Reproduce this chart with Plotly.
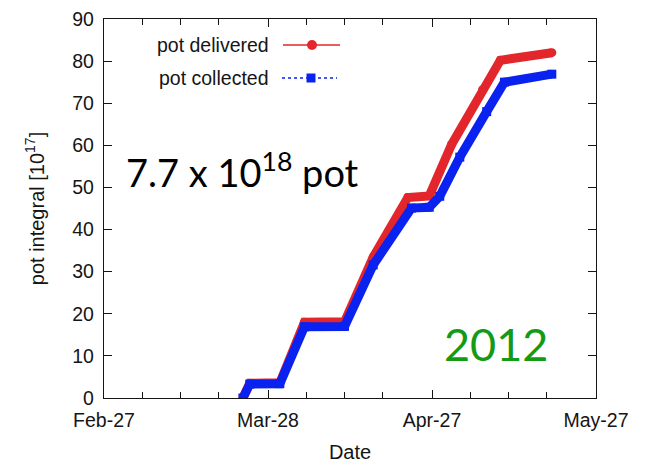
import plotly.graph_objects as go

# Integrated protons-on-target, 2012 run (units of 1e17)
delivered_dates = [
    "2012-03-23 10:00", "2012-03-24 16:00", "2012-03-30 04:00", "2012-04-03 16:00",
    "2012-04-11 00:00", "2012-04-16 06:00", "2012-04-22 14:00", "2012-04-26 12:00",
    "2012-04-30 14:00", "2012-05-06 06:00", "2012-05-09 12:00", "2012-05-18 22:00",
]
delivered_pot = [0.0, 3.5, 3.6, 18.0, 18.1, 33.5, 47.6, 48.0, 60.2, 73.2, 80.2, 82.0]

collected_dates = [
    "2012-03-23 10:00", "2012-03-24 16:00", "2012-03-30 04:00", "2012-04-03 16:00",
    "2012-04-11 00:00", "2012-04-16 06:00", "2012-04-23 06:00", "2012-04-26 12:00",
    "2012-04-28 10:00", "2012-05-02 02:00", "2012-05-07 00:00", "2012-05-10 06:00",
    "2012-05-18 22:00",
]
collected_pot = [0.0, 3.3, 3.4, 16.9, 17.0, 31.6, 45.1, 45.3, 47.9, 57.2, 68.0, 75.0, 76.9]

x_tick_vals = ["2012-02-27", "2012-03-28", "2012-04-27", "2012-05-27"]
x_tick_text = ["Feb-27", "Mar-28", "Apr-27", "May-27"]
x_minor_vals = ["2012-03-05", "2012-03-12", "2012-03-19",
                "2012-04-04", "2012-04-11", "2012-04-18",
                "2012-05-04", "2012-05-11", "2012-05-18"]
y_tick_vals = [0, 10, 20, 30, 40, 50, 60, 70, 80, 90]

RED = "#e2262b"
BLUE = "#0a22f0"
INK = "#151515"
SANS = "Liberation Sans, Arial, sans-serif"
TICK_FONT = dict(family=SANS, size=19.5, color=INK)
TITLE_FONT = dict(family=SANS, size=20, color=INK)

W, H = 645, 463
L, R, T, B = 104, 49, 19, 65
PW, PH = W - L - R, H - T - B


def px_x(x):
    return (x - L) / PW


def px_y(y):
    return (H - B - y) / PH


fig = go.Figure()
fig.add_trace(go.Scatter(
    x=delivered_dates, y=delivered_pot, mode="lines+markers", name="pot delivered",
    line=dict(color=RED, width=9), marker=dict(color=RED, size=9, symbol="circle"),
    showlegend=False,
))
fig.add_trace(go.Scatter(
    x=collected_dates, y=collected_pot, mode="lines+markers", name="pot collected",
    line=dict(color=BLUE, width=9), marker=dict(color=BLUE, size=9, symbol="square"),
    showlegend=False,
))

shapes = []
annotations = []

# key drawn gnuplot-style: label on the left, sample on the right
key_rows = [
    ("pot delivered", RED, "solid", "circle", 45, 283, 340, 312),
    ("pot collected", BLUE, "dot", "square", 78, 282, 337, 311),
]
for label, color, dash, sym, ky, kx0, kx1, kxm in key_rows:
    annotations.append(dict(
        text=label, xref="paper", yref="paper", x=px_x(271), y=px_y(ky),
        xanchor="right", yanchor="middle", showarrow=False,
        font=dict(family=SANS, size=19.5, color=INK),
    ))
    shapes.append(dict(
        type="line", xref="paper", yref="paper", x0=px_x(kx0), x1=px_x(kx1),
        y0=px_y(ky), y1=px_y(ky), line=dict(color=color, width=1.5, dash=dash),
    ))
    r = 5 if sym == "circle" else 4.5
    shapes.append(dict(
        type="circle" if sym == "circle" else "rect",
        xref="paper", yref="paper", xsizemode="pixel", ysizemode="pixel",
        xanchor=px_x(kxm), yanchor=px_y(ky), x0=-r, x1=r, y0=-r, y1=r,
        fillcolor=color, line=dict(color=color, width=0),
    ))

annotations.append(dict(
    text="7.7 x 10<sup>18</sup> pot", xref="paper", yref="paper",
    x=px_x(124), y=px_y(170), xanchor="left", yanchor="middle", showarrow=False,
    font=dict(family="Lato, Carlito, sans-serif", size=38, color="#000000"),
))
annotations.append(dict(
    text="2012", xref="paper", yref="paper",
    x=px_x(496), y=px_y(344), xanchor="center", yanchor="middle", showarrow=False,
    font=dict(family="Lato, Carlito, sans-serif", size=45, color="#149a14"),
))

fig.update_layout(
    width=W, height=H,
    margin=dict(l=L, r=R, t=T, b=B, pad=0),
    paper_bgcolor="white", plot_bgcolor="white",
    shapes=shapes, annotations=annotations,
    showlegend=False,
    xaxis=dict(
        type="date", range=["2012-02-27", "2012-05-27"],
        tickmode="array", tickvals=x_tick_vals, ticktext=x_tick_text,
        ticks="inside", ticklen=8, tickwidth=1.2, tickcolor=INK,
        minor=dict(tickmode="array", tickvals=x_minor_vals, ticks="inside",
                   ticklen=6, tickwidth=1.2, tickcolor=INK, showgrid=False),
        showline=True, linecolor=INK, linewidth=1.3, mirror="ticks",
        showgrid=False, zeroline=False, tickfont=TICK_FONT,
        ticklabelstandoff=4,
        title=dict(text="Date", font=TITLE_FONT, standoff=18),
        automargin=False,
    ),
    yaxis=dict(
        range=[0, 90], tickmode="array", tickvals=y_tick_vals,
        ticks="inside", ticklen=8, tickwidth=1.2, tickcolor=INK,
        showline=True, linecolor=INK, linewidth=1.3, mirror="ticks",
        showgrid=False, zeroline=False, tickfont=TICK_FONT,
        ticklabelstandoff=5,
        title=dict(text="pot integral [10<sup>17</sup>]", font=TITLE_FONT, standoff=22),
        automargin=False,
    ),
)

fig.write_html("out.html")
